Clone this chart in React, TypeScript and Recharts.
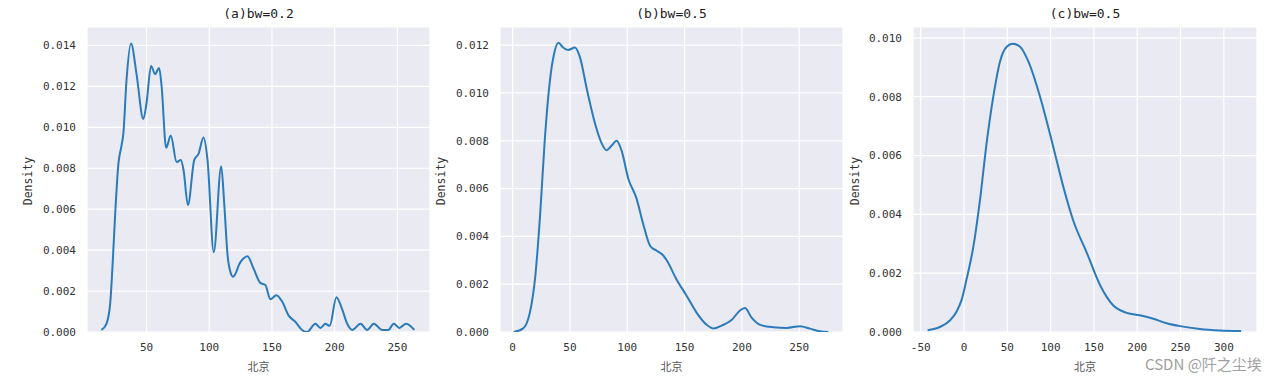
import { LineChart, Line, XAxis, YAxis, CartesianGrid } from "recharts";

// (a) bw=0.2
const aX = [14, 18, 21, 23, 25, 27.5, 30, 31.5, 34, 37.6, 42, 47.4, 50, 53.6, 56.8, 60, 62, 65.6, 69.3, 74, 77.3, 79.5, 83, 88, 91.4, 95.4, 98.6, 103.6, 109.5, 112, 114.5, 117, 119, 124.7, 130.5, 135.3, 140.7, 144.7, 148.7, 153.5, 158, 163.3, 168.6, 174, 178, 184.6, 188.6, 192.6, 196, 201.4, 206, 210, 214, 220.6, 225.9, 231.2, 237.9, 242.7, 247.1, 251.6, 256.9, 263.5];
const aY = [0.0001, 0.0004, 0.0014, 0.0034, 0.0058, 0.0082, 0.0091, 0.0097, 0.0123, 0.0141, 0.0126, 0.0104, 0.0112, 0.013, 0.0126, 0.0129, 0.012, 0.009, 0.0096, 0.0083, 0.0084, 0.0079, 0.0062, 0.0084, 0.0087, 0.0095, 0.0084, 0.0039, 0.0081, 0.0062, 0.0038, 0.0029, 0.0027, 0.0034, 0.0037, 0.0031, 0.0024, 0.0023, 0.0016, 0.0018, 0.0015, 0.0008, 0.0005, 0.0001, 0.0, 0.0004, 0.0002, 0.0004, 0.0003, 0.0017, 0.0011, 0.0004, 0.0001, 0.0004, 0.0001, 0.0004, 0.0001, 0.0001, 0.0004, 0.0002, 0.0004, 0.0001];

// (b) bw=0.5
const bX = [1, 9, 15, 19.5, 24, 28, 32.5, 36, 40, 44, 48.5, 54.4, 58.7, 65, 72, 77.6, 82, 86.4, 90.7, 95, 101, 108, 114, 120, 125.7, 131.4, 134.4, 143, 152, 160.6, 169.3, 175, 182.4, 191, 198.3, 202.7, 208.5, 215.8, 227.4, 239, 250.7, 259.4, 268, 275.4];
const bY = [0, 0.00014, 0.0008, 0.0022, 0.0049, 0.008, 0.0105, 0.0116, 0.0121, 0.0119, 0.0118, 0.0119, 0.0115, 0.0101, 0.0087, 0.0079, 0.0076, 0.0078, 0.008, 0.0076, 0.0064, 0.0056, 0.0045, 0.0036, 0.0034, 0.0032, 0.003, 0.0022, 0.0015, 0.0008, 0.0003, 0.00015, 0.00027, 0.0005, 0.0009, 0.001, 0.0006, 0.0003, 0.0002, 0.00017, 0.00024, 0.00014, 0.00003, 0];

// (c) bw=0.5
const cX = [-42, -28, -16, -8.5, -2.7, 3, 10.8, 18.5, 26, 33.8, 41.6, 49.3, 56.2, 64.7, 74.3, 87.8, 103, 115, 126, 141.7, 157, 172.4, 188, 203, 218.6, 234, 249.4, 272.5, 295.6, 320];
const cY = [0.00006, 0.00017, 0.0004, 0.0007, 0.0011, 0.0018, 0.0029, 0.0045, 0.0064, 0.008, 0.0092, 0.0097, 0.0098, 0.0097, 0.0092, 0.008, 0.0063, 0.0049, 0.0038, 0.0027, 0.0016, 0.0009, 0.00065, 0.00057, 0.00045, 0.0003, 0.0002, 0.0001, 0.00005, 0.00003];

const aXTicks = [50, 100, 150, 200, 250];
const bXTicks = [0, 50, 100, 150, 200, 250];
const cXTicks = [-50, 0, 50, 100, 150, 200, 250, 300];
const aYTicks = [0, 0.002, 0.004, 0.006, 0.008, 0.01, 0.012, 0.014];
const bYTicks = [0, 0.002, 0.004, 0.006, 0.008, 0.01, 0.012];
const cYTicks = [0, 0.002, 0.004, 0.006, 0.008, 0.01];

const mono = "'DejaVu Sans Mono', monospace";
const cjk = "'Noto Sans CJK SC', sans-serif";
const TOP = 27;
const BOTTOM = 332;

const toRows = (xs: number[], ys: number[]) => xs.map((x, i) => ({ x, y: ys[i] }));

interface PanelProps {
  title: string;
  left: number;
  right: number;
  labelX: number;
  xs: number[];
  ys: number[];
  xDomain: [number, number];
  yDomain: [number, number];
  xTicks: number[];
  yTicks: number[];
}

function Panel({ title, left, right, labelX, xs, ys, xDomain, yDomain, xTicks, yTicks }: PanelProps) {
  const axisW = 80;
  const plotW = right - left;
  const xAxisH = 30;
  const tick = { fill: "#333", fontSize: 11, fontFamily: mono };
  return (
    <>
      <div
        style={{
          position: "absolute",
          left,
          width: plotW,
          top: 6,
          textAlign: "center",
          fontFamily: mono,
          fontSize: 13,
          lineHeight: "16px",
          color: "#222",
        }}
      >
        {title}
      </div>
      <div
        style={{
          position: "absolute",
          left: labelX - 40,
          top: 181 - 8,
          width: 80,
          height: 16,
          lineHeight: "16px",
          textAlign: "center",
          transform: "rotate(-90deg)",
          fontFamily: mono,
          fontSize: 11.5,
          color: "#333",
        }}
      >
        Density
      </div>
      <div
        style={{
          position: "absolute",
          left,
          width: plotW,
          top: 358,
          textAlign: "center",
          fontFamily: cjk,
          fontSize: 11,
          lineHeight: "16px",
          color: "#555",
        }}
      >
        北京
      </div>
      <div style={{ position: "absolute", left: left - axisW, top: 0 }}>
        <LineChart
          width={plotW + axisW + 5}
          height={380}
          data={toRows(xs, ys)}
          margin={{ top: TOP, right: 5, left: 0, bottom: 380 - BOTTOM - xAxisH }}
        >
          <CartesianGrid fill="#EAEAF2" stroke="#ffffff" strokeWidth={1.2} />
          <XAxis
            dataKey="x"
            type="number"
            domain={xDomain}
            ticks={xTicks}
            allowDataOverflow
            axisLine={false}
            tickLine={false}
            tickSize={0}
            tickMargin={11}
            height={xAxisH}
            tick={tick}
          />
          <YAxis
            type="number"
            domain={yDomain}
            ticks={yTicks}
            allowDataOverflow
            axisLine={false}
            tickLine={false}
            tickSize={0}
            tickMargin={11}
            width={axisW}
            tick={tick}
            tickFormatter={(v: number) => v.toFixed(3)}
          />
          <Line
            dataKey="y"
            type="monotone"
            stroke="#2b7bba"
            strokeWidth={2}
            dot={false}
            isAnimationActive={false}
          />
        </LineChart>
      </div>
    </>
  );
}

export default function App() {
  return (
    <div
      style={{
        position: "absolute",
        left: 0,
        top: 0,
        width: 1280,
        height: 380,
        background: "#fff",
        overflow: "hidden",
      }}
    >
      <Panel title="(a)bw=0.2" left={87} right={430} labelX={28} xs={aX} ys={aY} xDomain={[2.5, 276]} yDomain={[0, 0.0149]} xTicks={aXTicks} yTicks={aYTicks} />
      <Panel title="(b)bw=0.5" left={500} right={843} labelX={441} xs={bX} ys={bY} xDomain={[-11, 288.2]} yDomain={[0, 0.01276]} xTicks={bXTicks} yTicks={bYTicks} />
      <Panel title="(c)bw=0.5" left={913} right={1257} labelX={855} xs={cX} ys={cY} xDomain={[-58.9, 338.3]} yDomain={[0, 0.01037]} xTicks={cXTicks} yTicks={cYTicks} />
      <div
        style={{
          position: "absolute",
          left: 1145,
          top: 355,
          fontFamily: cjk,
          fontSize: 15,
          lineHeight: "18px",
          color: "#a0a0a0",
          whiteSpace: "nowrap",
        }}
      >
        CSDN @阡之尘埃
      </div>
    </div>
  );
}
